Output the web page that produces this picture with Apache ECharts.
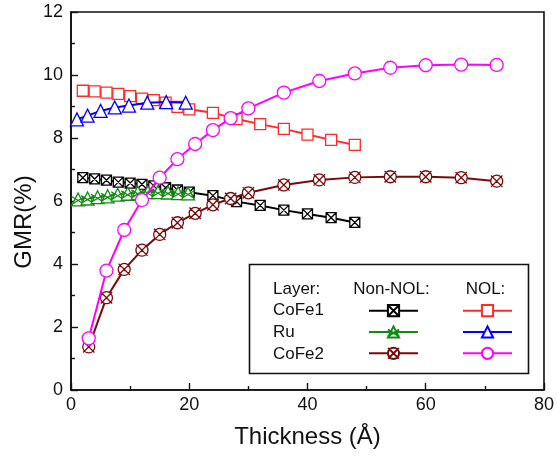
<!DOCTYPE html>
<html>
<head>
<meta charset="utf-8">
<script src="https://cdn.jsdelivr.net/npm/echarts@6/dist/echarts.min.js"></script>
<style>
  html, body { margin: 0; padding: 0; background: #fff; }
  #chart { width: 557px; height: 457px; }
</style>
</head>
<body>
<div id="chart"></div>
<script>
// GMR versus layer thickness, with and without nano-oxide layer (NOL)
const xTicks = [0, 20, 40, 60, 80];
const yTicks = [0, 2, 4, 6, 8, 10, 12];

const layerNames = ['CoFe1', 'Ru', 'CoFe2'];

// Non-NOL samples
const thickCoFe1 = [2, 4, 6, 8, 10, 12, 14, 16, 18, 20, 24, 28, 32, 36, 40, 44, 48];
const gmrCoFe1 = [6.74, 6.70, 6.66, 6.60, 6.57, 6.53, 6.48, 6.42, 6.35, 6.28, 6.17, 5.98, 5.86, 5.71, 5.59, 5.47, 5.32];

const thickRu = [1.2, 2.8, 4.5, 6.2, 7.9, 9.6, 11.3, 13.0, 14.7, 16.4, 18.1, 19.8];
const gmrRu = [6.05, 6.08, 6.12, 6.15, 6.20, 6.23, 6.26, 6.28, 6.28, 6.27, 6.25, 6.24];

const thickCoFe2 = [3, 6, 9, 12, 15, 18, 21, 24, 27, 30, 36, 42, 48, 54, 60, 66, 72];
const gmrCoFe2 = [1.37, 2.93, 3.83, 4.44, 4.94, 5.31, 5.61, 5.88, 6.08, 6.26, 6.51, 6.67, 6.75, 6.77, 6.77, 6.74, 6.63];

// NOL samples
const thickCoFe1Nol = [2, 4, 6, 8, 10, 12, 14, 16, 18, 20, 24, 28, 32, 36, 40, 44, 48];
const gmrCoFe1Nol = [9.50, 9.48, 9.44, 9.40, 9.33, 9.25, 9.20, 9.12, 8.99, 8.91, 8.80, 8.60, 8.44, 8.29, 8.11, 7.94, 7.78];

const thickRuNol = [1, 2.8, 5, 7.4, 9.8, 12.9, 16.1, 19.4];
const gmrRuNol = [8.59, 8.71, 8.86, 8.97, 9.03, 9.12, 9.14, 9.12];

const thickCoFe2Nol = [3, 6, 9, 12, 15, 18, 21, 24, 27, 30, 36, 42, 48, 54, 60, 66, 72];
const gmrCoFe2Nol = [1.64, 3.79, 5.08, 6.03, 6.74, 7.33, 7.81, 8.25, 8.63, 8.94, 9.44, 9.81, 10.05, 10.23, 10.31, 10.33, 10.32];

const pairs = (xs, ys) => xs.map((x, i) => [x, ys[i]]);

// marker outlines
const boxCross = 'path://M0,0H10V10H0Z M0,0L10,10 M10,0L0,10';
const triCross = 'path://M5,0L10,9L0,9Z M0,2.5L10,8 M10,2.5L0,8';
const circCross = 'path://M0.8,5A4.2,4.2,0,1,1,9.2,5A4.2,4.2,0,1,1,0.8,5Z M1,1L9,9 M9,1L1,9';

const FONT = 'Liberation Sans, Arial, Helvetica, sans-serif';
const INK = '#111';

function mkSeries(name, data, color, symbol, size, z) {
  return {
    name: name,
    type: 'line',
    data: data,
    symbol: symbol,
    symbolSize: size,
    showAllSymbol: true,
    z: z,
    lineStyle: { color: color, width: 2 },
    itemStyle: { color: '#fff', borderColor: color, borderWidth: 1.3 },
    emphasis: { disabled: true },
    animation: false
  };
}

const series = [
  mkSeries('CoFe1 Non-NOL', pairs(thickCoFe1, gmrCoFe1), '#000000', boxCross, 10, 2),
  mkSeries('Ru Non-NOL', pairs(thickRu, gmrRu), '#138a13', triCross, 13, 3),
  mkSeries('CoFe2 Non-NOL', pairs(thickCoFe2, gmrCoFe2), '#7a0a0a', circCross, 12, 4),
  mkSeries('CoFe1 NOL', pairs(thickCoFe1Nol, gmrCoFe1Nol), '#ff2a2a', 'rect', 11, 5),
  mkSeries('Ru NOL', pairs(thickRuNol, gmrRuNol), '#0000ff', 'triangle', 13, 6),
  mkSeries('CoFe2 NOL', pairs(thickCoFe2Nol, gmrCoFe2Nol), '#ff00ff', 'circle', 13, 7)
];

const legendBase = {
  orient: 'vertical',
  itemWidth: 49,
  itemHeight: 14,
  itemGap: 7.7,
  formatter: () => '',
  selectedMode: false,
  textStyle: { fontSize: 1 },
  top: 298.7
};

const chart = echarts.init(document.getElementById('chart'), null, { renderer: 'canvas' });

chart.setOption({
  backgroundColor: '#fff',
  animation: false,
  grid: {
    left: 71, right: 11, top: 12, bottom: 67,
    show: true, borderColor: INK, borderWidth: 1.6, backgroundColor: 'transparent'
  },
  xAxis: {
    type: 'value',
    min: xTicks[0], max: xTicks[xTicks.length - 1], interval: 20,
    name: 'Thickness (Å)',
    nameLocation: 'middle',
    nameGap: 35,
    nameTextStyle: { fontFamily: FONT, fontSize: 24, color: INK },
    axisLine: { lineStyle: { color: INK, width: 1.6 } },
    axisTick: { inside: true, length: 7, lineStyle: { color: INK, width: 1.4 } },
    minorTick: { show: true, splitNumber: 2, length: 4, lineStyle: { color: INK, width: 1.4 } },
    axisLabel: { fontFamily: FONT, fontSize: 18, color: INK, margin: 6 },
    splitLine: { show: false }
  },
  yAxis: {
    type: 'value',
    min: yTicks[0], max: yTicks[yTicks.length - 1], interval: 2,
    axisLine: { show: true, lineStyle: { color: INK, width: 1.6 } },
    axisTick: { show: true, inside: true, length: 7, lineStyle: { color: INK, width: 1.4 } },
    minorTick: { show: true, splitNumber: 2, length: 4, lineStyle: { color: INK, width: 1.4 } },
    axisLabel: { fontFamily: FONT, fontSize: 18, color: INK, margin: 8 },
    splitLine: { show: false }
  },
  legend: [
    Object.assign({}, legendBase, { left: 363, data: series.slice(0, 3).map(s => s.name) }),
    Object.assign({}, legendBase, { left: 457, data: series.slice(3).map(s => s.name) })
  ],
  graphic: [
    {
      type: 'text', rotation: Math.PI / 2,
      x: 24, y: 222,
      style: { text: 'GMR(%)', font: '24px ' + FONT, fill: INK, align: 'center', verticalAlign: 'middle' }
    },
    {
      type: 'rect', z: 1,
      shape: { x: 249.5, y: 264.5, width: 279, height: 109 },
      style: { fill: '#fff', stroke: INK, lineWidth: 1.6 }
    },
    {
      type: 'text', x: 273, y: 289, z: 10,
      style: { text: 'Layer:', font: '17px ' + FONT, fill: INK, align: 'left', verticalAlign: 'middle' }
    },
    {
      type: 'text', x: 391.5, y: 289, z: 10,
      style: { text: 'Non-NOL:', font: '17px ' + FONT, fill: INK, align: 'center', verticalAlign: 'middle' }
    },
    {
      type: 'text', x: 485.5, y: 289, z: 10,
      style: { text: 'NOL:', font: '17px ' + FONT, fill: INK, align: 'center', verticalAlign: 'middle' }
    }
  ].concat(layerNames.map((n, i) => ({
    type: 'text', x: 273, y: 310.7 + i * 21.7, z: 10,
    style: { text: n, font: '17px ' + FONT, fill: INK, align: 'left', verticalAlign: 'middle' }
  }))),
  series: series
});
</script>
</body>
</html>
